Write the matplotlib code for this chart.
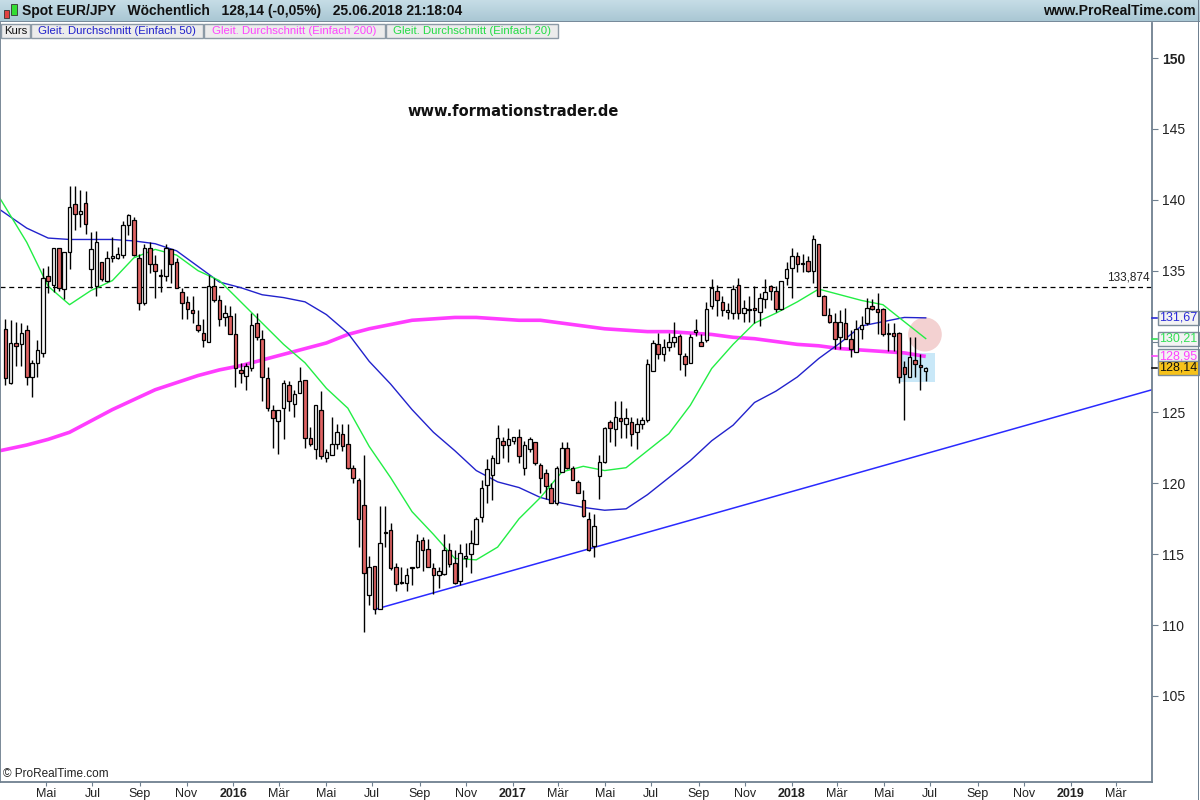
#-----------------------------------------------------------------------------#
# plot.py
#
# Weekly EUR/JPY candles (ProRealTime style) with SMA 20/50/200,
# resistance at 133,874 and the rising trendline from the 2016 lows.
#
# Output: out.png (1200x800)
#-----------------------------------------------------------------------------#

import numpy as np
import pandas as pd
import matplotlib
matplotlib.use('Agg')
import matplotlib.pyplot as plt
import matplotlib.dates as mdates
from matplotlib.patches import Rectangle, Ellipse
from matplotlib.transforms import blended_transform_factory

plt.rcParams['font.family'] = ['Liberation Sans', 'DejaVu Sans']

#----------- Data -----------#
first_week = '2015-03-09'

opens = [130.9, 127.1, 129.9, 129.8, 130.8, 127.5, 128.5, 129.2, 134.6, 134.0,
         136.6, 133.7, 136.3, 139.7, 139.0, 139.8, 135.1, 133.9, 135.6, 134.3,
         135.9, 135.9, 136.1, 138.2, 138.6, 135.9, 132.7, 136.6, 135.5, 134.7,
         134.6, 136.5, 135.6, 133.5, 132.8, 132.2, 131.2, 130.6, 130.0, 133.9,
         132.9, 131.7, 131.8, 130.5, 128.0, 127.6, 128.1, 131.3, 130.2, 127.4,
         125.2, 124.4, 125.3, 126.9, 125.6, 126.4, 127.3, 123.2, 122.4, 125.2,
         121.8, 122.0, 122.8, 123.5, 122.8, 121.1, 120.2, 118.5, 112.1, 114.2,
         111.1, 116.5, 116.7, 114.1, 112.95, 113.0, 114.0, 114.1, 116.0, 115.4,
         114.0, 113.5, 113.6, 115.3, 114.4, 113.1, 114.7, 115.0, 115.7, 117.6,
         119.9, 120.6, 121.4, 123.0, 122.7, 123.0, 123.3, 121.1, 122.4, 122.9,
         121.3, 120.7, 119.7, 118.6, 120.8, 122.5, 121.1, 120.1, 118.8, 117.5,
         115.6, 120.5, 121.5, 124.3, 123.8, 124.6, 124.2, 124.3, 123.6, 124.2,
         124.5, 127.9, 129.8, 129.1, 129.6, 130.0, 130.4, 129.0, 128.5, 130.7,
         130.0, 130.1, 132.5, 133.6, 132.8, 132.1, 132.0, 134.0, 132.0, 132.3,
         132.4, 132.1, 133.0, 133.9, 133.6, 132.3, 134.5, 135.2, 136.0, 135.5,
         135.7, 135.0, 136.9, 133.2, 131.9, 131.4, 130.3, 131.3, 130.2, 129.25,
         130.9, 131.3, 132.5, 132.3, 132.3, 130.5, 130.6, 130.6, 128.2, 127.5,
         128.7, 128.35, 127.9]
highs = [131.6, 131.5, 131.4, 131.3, 131.2, 128.7, 130.1, 135.2, 135.3, 136.6,
         136.6, 136.3, 141.0, 141.0, 140.7, 140.6, 137.7, 137.8, 135.6, 136.4,
         137.4, 136.7, 138.5, 139.0, 138.8, 136.2, 136.9, 137.0, 136.1, 135.1,
         136.9, 136.5, 135.9, 133.8, 133.2, 133.2, 132.2, 131.6, 134.7, 134.5,
         133.3, 132.6, 132.5, 132.0, 128.5, 128.5, 132.0, 132.0, 130.8, 128.2,
         125.5, 125.2, 127.3, 127.2, 126.6, 128.2, 127.3, 124.0, 125.5, 126.5,
         122.4, 124.7, 124.2, 124.2, 124.2, 121.3, 120.4, 122.0, 114.9, 114.2,
         118.4, 118.4, 117.2, 114.4, 114.1, 114.0, 114.1, 116.4, 116.2, 116.1,
         114.4, 114.1, 116.4, 115.8, 115.3, 115.7, 115.8, 116.7, 117.6, 120.2,
         121.7, 122.0, 124.1, 123.3, 123.9, 123.3, 123.8, 123.0, 123.3, 122.9,
         121.4, 121.0, 120.0, 121.2, 122.9, 122.9, 121.2, 120.2, 119.5, 118.0,
         117.8, 122.0, 124.0, 124.5, 125.8, 125.8, 125.3, 124.7, 124.6, 124.7,
         128.8, 130.1, 130.6, 130.2, 130.6, 131.4, 130.5, 129.2, 130.5, 131.6,
         130.5, 132.8, 134.4, 134.0, 133.2, 132.7, 134.0, 134.5, 132.9, 133.2,
         133.9, 133.4, 134.4, 134.0, 133.9, 134.3, 135.6, 136.6, 136.35, 136.2,
         136.0, 137.5, 136.9, 133.3, 132.35, 132.0, 132.2, 132.4, 130.8, 131.5,
         131.8, 133.1, 133.0, 133.45, 132.35, 131.3, 131.3, 130.7, 128.6, 130.35,
         130.35, 129.1, 128.2]
lows = [126.9, 127.0, 128.3, 128.3, 126.9, 126.1, 127.5, 128.9, 133.4, 133.5,
        133.6, 133.0, 135.1, 137.9, 138.1, 137.6, 133.8, 133.2, 134.3, 134.2,
        135.6, 135.8, 135.9, 137.5, 136.0, 132.2, 132.6, 134.8, 133.1, 133.5,
        134.3, 134.1, 133.8, 131.6, 131.6, 131.3, 130.7, 129.6, 130.0, 132.8,
        131.1, 131.1, 130.5, 126.8, 127.1, 126.6, 127.9, 130.1, 125.8, 125.1,
        122.5, 122.1, 123.1, 125.1, 124.7, 126.4, 122.5, 122.6, 121.7, 121.7,
        121.5, 122.0, 122.4, 122.3, 121.0, 120.0, 115.5, 109.5, 111.4, 110.8,
        111.1, 115.5, 113.9, 112.4, 112.9, 112.4, 112.8, 114.0, 113.8, 114.1,
        112.2, 112.6, 113.5, 114.1, 112.9, 112.8, 114.1, 113.7, 115.7, 117.3,
        118.6, 118.8, 121.4, 121.8, 121.5, 122.8, 121.4, 120.6, 122.2, 121.3,
        119.3, 118.9, 118.6, 118.5, 120.8, 121.0, 120.2, 119.3, 117.6, 115.2,
        114.8, 118.9, 121.4, 122.9, 122.6, 123.2, 123.2, 122.6, 122.4, 123.8,
        124.3, 127.9, 128.8, 128.6, 129.3, 129.6, 128.0, 127.6, 128.5, 130.4,
        129.7, 130.0, 132.3, 131.8, 131.8, 131.6, 131.6, 131.6, 131.4, 131.4,
        131.3, 131.1, 132.4, 132.9, 132.1, 132.2, 134.0, 133.1, 134.9, 134.9,
        134.9, 134.1, 133.2, 131.9, 131.3, 129.5, 129.5, 130.2, 128.9, 129.25,
        130.2, 131.2, 132.2, 130.54, 130.4, 129.3, 129.3, 127.1, 124.5, 127.5,
        127.5, 126.6, 127.25]
closes = [127.4, 129.9, 129.7, 130.6, 127.5, 128.5, 129.4, 134.5, 134.3, 136.6,
          133.8, 136.3, 139.5, 139.0, 139.2, 138.3, 136.5, 137.0, 134.4, 135.9,
          136.0, 136.2, 138.2, 138.9, 136.1, 132.7, 136.6, 135.5, 135.0, 134.6,
          136.6, 135.5, 133.8, 132.7, 132.3, 132.0, 130.8, 130.1, 133.9, 132.9,
          131.6, 132.0, 130.5, 128.1, 127.8, 128.3, 131.2, 130.3, 127.5, 125.3,
          124.6, 125.2, 127.1, 125.8, 126.3, 127.2, 123.2, 122.8, 125.5, 121.9,
          122.2, 122.8, 123.6, 122.6, 121.1, 120.4, 117.5, 113.7, 114.1, 111.1,
          115.8, 116.6, 114.0, 112.9, 113.05, 113.5, 114.1, 115.9, 115.3, 114.1,
          113.5, 113.8, 115.3, 114.3, 113.0, 115.1, 114.9, 115.8, 117.5, 119.7,
          121.0, 121.8, 123.2, 122.7, 123.1, 123.3, 121.9, 122.7, 123.1, 121.4,
          120.4, 119.8, 118.6, 121.1, 122.5, 121.1, 120.2, 119.3, 117.7, 115.3,
          117.0, 121.5, 123.9, 123.9, 124.7, 124.4, 124.6, 123.5, 124.2, 124.5,
          128.4, 129.9, 129.1, 129.6, 130.0, 130.3, 129.1, 128.4, 130.3, 130.8,
          129.7, 132.3, 133.8, 132.9, 132.2, 132.2, 133.7, 132.0, 132.4, 132.2,
          132.2, 133.1, 133.5, 133.6, 132.3, 134.3, 135.1, 136.0, 135.45, 135.45,
          135.0, 137.2, 133.2, 131.9, 131.4, 130.2, 131.4, 130.2, 129.5, 130.9,
          131.2, 132.4, 132.3, 132.1, 130.5, 130.55, 130.4, 127.5, 127.7, 128.9,
          128.4, 128.2, 128.14]

# moving averages sampled every 4 weeks (week offset from first candle)
ma_weeks = [-1] + list(range(4, 173, 4))
sma20 = [140.1, 137.0, 133.9, 132.6, 133.6, 134.3, 135.9, 136.5, 136.1, 135.0,
         134.3, 132.8, 131.3, 129.8, 128.5, 126.7, 125.3, 122.6, 120.4, 118.0,
         116.4, 114.7, 114.6, 115.5, 117.5, 119.0, 120.8, 121.2, 120.9, 121.1,
         122.3, 123.5, 125.5, 128.1, 129.8, 131.3, 132.0, 132.8, 133.7, 133.3,
         132.9, 132.6, 131.4, 130.21]
sma50 = [139.3, 138.0, 137.3, 137.2, 137.2, 137.2, 137.1, 136.9, 136.4, 135.3,
         134.2, 133.8, 133.3, 133.1, 132.8, 131.9, 130.6, 128.6, 127.0, 125.2,
         123.6, 122.3, 120.9, 120.1, 119.7, 119.0, 118.6, 118.3, 118.1, 118.2,
         119.2, 120.4, 121.6, 123.0, 124.1, 125.7, 126.5, 127.5, 128.8, 129.9,
         131.1, 131.4, 131.7, 131.67]
sma200 = [122.3, 122.7, 123.1, 123.6, 124.4, 125.2, 125.9, 126.6, 127.1, 127.6,
          128.0, 128.3, 128.7, 129.1, 129.5, 129.9, 130.5, 130.9, 131.2, 131.5,
          131.6, 131.7, 131.7, 131.6, 131.5, 131.5, 131.3, 131.1, 130.9, 130.8,
          130.7, 130.7, 130.6, 130.5, 130.3, 130.2, 130.0, 129.8, 129.7, 129.5,
          129.4, 129.3, 129.2, 128.95]

resistance = 133.874
trend_dates = ['2016-07-04', '2019-04-17']
trend_vals = [111.1, 126.6]

last_labels = ['131,67', '130,21', '128,95', '128,14']
last_values = [131.67, 130.21, 128.95, 128.14]

month_ticks = pd.date_range('2015-05-01', '2019-03-01', freq='2MS')
month_names = {3: 'Mär', 5: 'Mai', 7: 'Jul', 9: 'Sep', 11: 'Nov'}

#----------- Prepare -----------#
W, H = 1200., 800.
def fx(px): return px / W
def fy(py): return 1 - py / H

dates = pd.date_range(first_week, periods=len(closes), freq='7D')
x = mdates.date2num(dates)
o = np.array(opens); c = np.array(closes)
hi = np.array(highs); lo = np.array(lows)
ma_x = mdates.date2num(pd.Timestamp(first_week) + pd.to_timedelta(np.array(ma_weeks) * 7, unit='D'))

red = '#e06363'
white = '#f6f6f6'
frame = '#6f8090'

#----------- Plot -----------#
fig = plt.figure(figsize=(12, 8), dpi=100)
ax = fig.add_axes([0, fy(782), fx(1152), fy(23) - fy(782)])

ax.set_xlim(mdates.date2num(pd.Timestamp('2015-03-02')), mdates.date2num(pd.Timestamp('2019-04-17')))
ax.set_ylim(98.93, 152.47)

# highlight box and circle near the last candles
ax.add_patch(Rectangle((x[-1] - 35, 127.15), 47, 2.05, facecolor='#c9e8f8', edgecolor='none', zorder=1))
ax.add_patch(Ellipse((x[-1] - 1, 130.5), 44, 2.4, facecolor='#f1c9c9', edgecolor='none', alpha=0.85, zorder=1))

# resistance and trendline
ax.axhline(resistance, color='black', lw=0.9, ls=(0, (4, 3)), zorder=2)
ax.text(1150 / 1152, resistance + 0.25, '133,874', transform=blended_transform_factory(ax.transAxes, ax.transData),
        ha='right', va='bottom', fontsize=8.5, color='#222222')
ax.plot(mdates.date2num(pd.to_datetime(trend_dates)), trend_vals, color='#2a2aff', lw=1.1, zorder=2)

# moving averages
ax.plot(ma_x, sma200, color='#ff3dff', lw=2.6, zorder=2, solid_capstyle='butt')
ax.plot(ma_x, sma50, color='#2222cc', lw=1.0, zorder=2)
ax.plot(ma_x, sma20, color='#22ee44', lw=1.0, zorder=2)

# candles
ax.vlines(x, lo, hi, color='black', lw=1.0, zorder=3)
body_lo = np.minimum(o, c)
body_h = np.maximum(np.abs(c - o), 0.07)
ax.bar(x, body_h, bottom=body_lo, width=4.6, color=np.where(c >= o, white, red),
       edgecolor='black', linewidth=0.9, zorder=4)

# axes styling
ax.spines['top'].set_visible(False)
for s in ['left', 'right', 'bottom']:
    ax.spines[s].set_color(frame)
    ax.spines[s].set_linewidth(1.3)

# the 130 label sits under the value boxes, so it stays empty
ax.yaxis.tick_right()
ax.set_yticks(np.arange(105, 151, 5))
ax.set_yticklabels(['' if v == 130 else str(v) for v in range(105, 151, 5)])
ax.tick_params(axis='y', direction='out', length=4, color=frame, labelsize=10, pad=3, labelcolor='#222222')
for lab in ax.get_yticklabels():
    if lab.get_text() == '150':
        lab.set_fontweight('bold')

xt = mdates.date2num(month_ticks)
xl = [str(d.year) if d.month == 1 else month_names[d.month] for d in month_ticks]
ax.set_xticks(xt)
ax.set_xticklabels(xl)
ax.tick_params(axis='x', direction='out', length=3, color=frame, labelsize=9, pad=1, labelcolor='#222222')
for lab in ax.get_xticklabels():
    if lab.get_text().isdigit():
        lab.set_fontweight('bold')

# last value boxes on the right axis
bt = blended_transform_factory(ax.transAxes, ax.transData)
box_cols = ['#2b2bd8', '#33e055', '#ff44ff', '#111111']
box_face = ['#f3f3f3', '#f3f3f3', '#f3f3f3', '#f6c21a']
for lbl, v, tc, fc in zip(last_labels, last_values, box_cols, box_face):
    ax.plot([1.0, 1.004], [v, v], color=tc, lw=1.2, transform=bt, clip_on=False, zorder=5)
    ax.text(1.0065, v, lbl, transform=bt, ha='left', va='center', fontsize=9, color=tc,
            bbox=dict(boxstyle='square,pad=0.08', facecolor=fc, edgecolor='#7c8c9a', lw=1.0),
            zorder=6, clip_on=False)

#----------- Header and legend row -----------#
hax = fig.add_axes([0, fy(22), 1, 22 / H])
grad = np.linspace(0, 1, 50).reshape(-1, 1)
hax.imshow(grad, aspect='auto', cmap=matplotlib.colors.LinearSegmentedColormap.from_list(
    'hdr', ['#c6dde6', '#a8c6d3']), extent=[0, 1, 0, 1])
hax.set_xlim(0, 1); hax.set_ylim(0, 1)
hax.axis('off')
hax.axhline(0.02, color='#6f8090', lw=1.2)

# little candle icon
fig.patches.append(Rectangle((fx(4), fy(18)), fx(5), 8 / H, transform=fig.transFigure,
                             facecolor='#e04040', edgecolor='#333333', lw=0.6))
fig.patches.append(Rectangle((fx(11), fy(15)), fx(6), 11 / H, transform=fig.transFigure,
                             facecolor='#33dd33', edgecolor='#333333', lw=0.6))
fig.text(fx(22), fy(11), 'Spot EUR/JPY   Wöchentlich   128,14 (-0,05%)   25.06.2018 21:18:04',
         fontsize=10, fontweight='bold', va='center', ha='left', color='#111111')
fig.text(fx(1196), fy(11), 'www.ProRealTime.com', fontsize=10, fontweight='bold',
         va='center', ha='right', color='#111111')

legend_boxes = [(1, 30, 'Kurs', '#111111'),
                (31, 203, 'Gleit. Durchschnitt (Einfach 50)', '#2020cc'),
                (204, 385, 'Gleit. Durchschnitt (Einfach 200)', '#ff44ff'),
                (386, 558, 'Gleit. Durchschnitt (Einfach 20)', '#22dd44')]
for x0, x1, txt, col in legend_boxes:
    fig.patches.append(Rectangle((fx(x0), fy(38)), fx(x1 - x0), 14 / H, transform=fig.transFigure,
                                 facecolor='#ececec', edgecolor='#8c9aa6', lw=1.0, zorder=10))
    fig.text(fx((x0 + x1) / 2), fy(31), txt, fontsize=8.2, color=col, va='center', ha='center', zorder=11)

# watermark and copyright
fig.text(fx(513), fy(112), 'www.formationstrader.de', fontsize=10.5, fontweight='bold',
         ha='center', va='center', family='DejaVu Sans', color='#111111')
fig.text(fx(3), fy(774), '© ProRealTime.com', fontsize=8.5, ha='left', va='center', color='#222222')

# outer frame on the right
fig.patches.append(Rectangle((fx(1198), 0), fx(1), 1, transform=fig.transFigure,
                             facecolor=frame, edgecolor='none'))

plt.savefig('out.png', dpi=100)
